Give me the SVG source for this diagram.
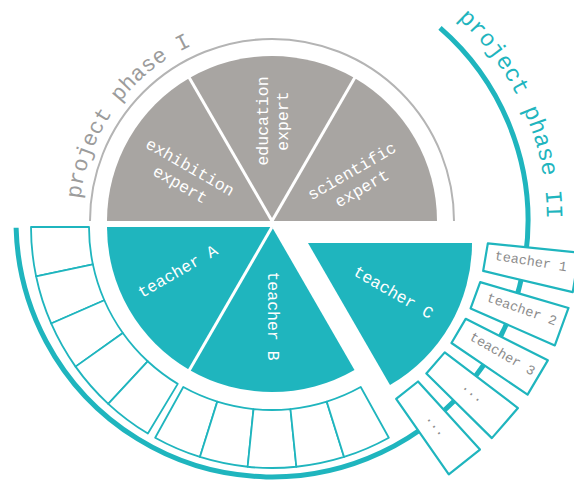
<svg xmlns="http://www.w3.org/2000/svg" width="574" height="482" viewBox="0 0 574 482">
  <defs>
    <style>
      .gray { fill: #a8a5a2; }
      .teal { fill: #1fb5be; }
      .sep { stroke: #ffffff; stroke-width: 3; fill: none; }
      .cell { fill: #ffffff; stroke: #1fb5be; stroke-width: 1.8; stroke-linejoin: round; }
      .box { fill: #ffffff; stroke: #1fb5be; stroke-width: 2.2; stroke-linejoin: round; }
      .pie-label { font-family: "Liberation Mono", "Courier New", monospace; font-size: 16.5px; fill: #ffffff; text-anchor: middle; dominant-baseline: central; }
      .box-label { font-family: "Liberation Mono", "Courier New", monospace; font-size: 13.5px; fill: #8c8c8c; text-anchor: middle; dominant-baseline: central; }
      .dots { font-family: "Liberation Mono", "Courier New", monospace; font-size: 13.5px; fill: #8c8c8c; text-anchor: middle; }
      .phase { font-family: "Liberation Mono", "Courier New", monospace; font-size: 22px; }
    </style>
    <path id="arc-phase1" d="M79,221 A193,193 0 0 1 465,221"/>
    <path id="arc-phase2" d="M409.5,-17.2 A275,275 0 0 1 547,221"/>
  </defs>

  <rect width="574" height="482" fill="#ffffff"/>

  <!-- outer rings and spine -->
  <g id="connectors">
    <path d="M90,221 A182,182 0 0 1 454,221" fill="none" stroke="#b4b4b4" stroke-width="2"/>
    <path d="M16.1,227.7 A256,256 0 1 0 440,27.8" fill="none" stroke="#1fb5be" stroke-width="5"/>
  </g>

  <!-- phase labels -->
  <g id="label-phase1">
    <text class="phase" fill="#9c9c9c"><textPath href="#arc-phase1" startOffset="22">project phase I</textPath></text>
  </g>
  <g id="label-phase2">
    <text class="phase" fill="#1fb5be" style="font-size:23.5px"><textPath href="#arc-phase2" startOffset="60">project phase II</textPath></text>
  </g>

  <!-- upper half: experts -->
  <g id="exhibition-expert">
    <path class="gray" d="M272,221 L107,221 A165,165 0 0 1 189.5,78.1 Z"/>
    <text class="pie-label" transform="translate(185,176) rotate(30)"><tspan x="0" y="-10">exhibition</tspan><tspan x="0" y="10">expert</tspan></text>
  </g>
  <g id="education-expert">
    <path class="gray" d="M272,221 L189.5,78.1 A165,165 0 0 1 354.5,78.1 Z"/>
    <text class="pie-label" transform="translate(273,121) rotate(-90)"><tspan x="0" y="-10">education</tspan><tspan x="0" y="10">expert</tspan></text>
  </g>
  <g id="scientific-expert">
    <path class="gray" d="M272,221 L354.5,78.1 A165,165 0 0 1 437,221 Z"/>
    <text class="pie-label" transform="translate(357,180) rotate(-30)"><tspan x="0" y="-10">scientific</tspan><tspan x="0" y="10">expert</tspan></text>
  </g>

  <!-- lower half: teachers -->
  <g id="teacher-a">
    <path class="teal" d="M272,227 L107,227 A165,165 0 0 0 189.5,369.9 Z"/>
    <text class="pie-label" transform="translate(178,272) rotate(-30)">teacher A</text>
  </g>
  <g id="teacher-b">
    <path class="teal" d="M272,227 L354.5,369.9 A165,165 0 0 1 189.5,369.9 Z"/>
    <text class="pie-label" transform="translate(272,316) rotate(90)">teacher B</text>
  </g>
  <g id="teacher-c">
    <path class="teal" d="M308,243 L472,243 A164,164 0 0 1 390,385 Z"/>
    <text class="pie-label" transform="translate(393,293) rotate(30)">teacher C</text>
  </g>

  <!-- white dividers between slices -->
  <g id="dividers">
    <line class="sep" x1="272" y1="221" x2="188.7" y2="76.7"/>
    <line class="sep" x1="272" y1="221" x2="355.3" y2="76.7"/>
    <line class="sep" x1="272" y1="227" x2="188.7" y2="371.3"/>
  </g>

  <!-- cell ring under teacher A -->
  <g id="cells-a">
    <path class="cell" d="M89,227 L31,227 A241,241 0 0 0 36.09,276.28 L92.87,264.42 A183,183 0 0 1 89,227 Z"/>
    <path class="cell" d="M92.87,264.42 L36.09,276.28 A241,241 0 0 0 51.16,323.48 L104.31,300.26 A183,183 0 0 1 92.87,264.42 Z"/>
    <path class="cell" d="M104.31,300.26 L51.16,323.48 A241,241 0 0 0 75.55,366.61 L122.83,333.01 A183,183 0 0 1 104.31,300.26 Z"/>
    <path class="cell" d="M122.83,333.01 L75.55,366.61 A241,241 0 0 0 108.25,403.83 L147.66,361.27 A183,183 0 0 1 122.83,333.01 Z"/>
    <path class="cell" d="M147.66,361.27 L108.25,403.83 A241,241 0 0 0 147.88,433.58 L177.75,383.86 A183,183 0 0 1 147.66,361.27 Z"/>
  </g>

  <!-- cell ring under teacher B -->
  <g id="cells-b">
    <path class="cell" d="M183.28,387.06 L155.16,437.78 A241,241 0 0 0 199.93,456.97 L217.28,401.63 A183,183 0 0 1 183.28,387.06 Z"/>
    <path class="cell" d="M217.28,401.63 L199.93,456.97 A241,241 0 0 0 247.64,466.77 L253.51,409.06 A183,183 0 0 1 217.28,401.63 Z"/>
    <path class="cell" d="M253.51,409.06 L247.64,466.77 A241,241 0 0 0 296.36,466.77 L290.49,409.06 A183,183 0 0 1 253.51,409.06 Z"/>
    <path class="cell" d="M290.49,409.06 L296.36,466.77 A241,241 0 0 0 344.07,456.97 L326.72,401.63 A183,183 0 0 1 290.49,409.06 Z"/>
    <path class="cell" d="M326.72,401.63 L344.07,456.97 A241,241 0 0 0 388.84,437.78 L360.72,387.06 A183,183 0 0 1 326.72,401.63 Z"/>
  </g>

  <!-- teacher boxes for teacher C -->
  <g id="box-teacher-1">
    <path class="box" d="M487.85,243.31 L579.36,252.76 L572.71,292.09 L483.18,270.92 Z"/>
    <text class="box-label" transform="translate(530.8,262) rotate(9)">teacher 1</text>
  </g>
  <g id="box-teacher-2">
    <path class="box" d="M480.22,282.09 L568.5,307.98 L554.83,345.45 L470.62,308.4 Z"/>
    <text class="box-label" transform="translate(521.6,309.9) rotate(19.6)">teacher 2</text>
  </g>
  <g id="box-teacher-3">
    <path class="box" d="M465.69,318.84 L547.81,360.32 L527.57,394.68 L451.48,342.97 Z"/>
    <text class="box-label" transform="translate(502.1,354.4) rotate(30.1)">teacher 3</text>
  </g>
  <g id="box-more-1">
    <path class="box" d="M444.73,352.35 L517.96,408.03 L491.84,438.15 L426.38,373.49 Z"/>
    <text class="dots" transform="translate(470.6,395) rotate(41.2)">...</text>
  </g>
  <g id="box-more-2">
    <path class="box" d="M418.04,381.5 L479.96,449.55 L448.79,474.43 L396.16,398.97 Z"/>
    <text class="dots" transform="translate(433.3,427.5) rotate(52)">...</text>
  </g>
</svg>
